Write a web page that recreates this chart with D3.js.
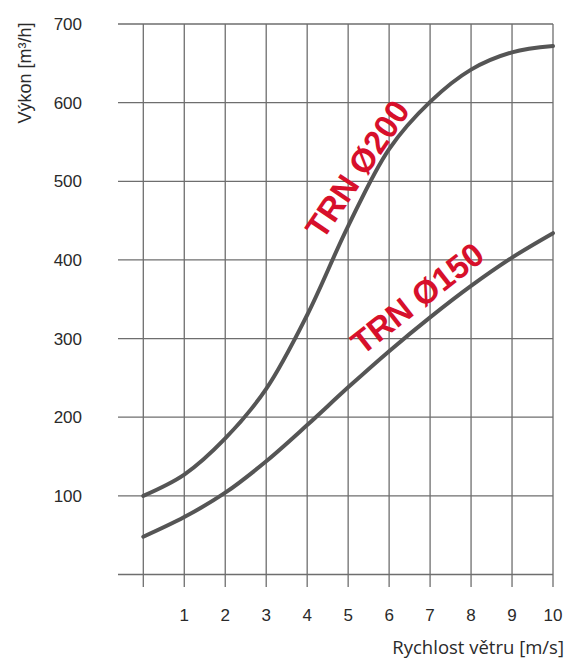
<!DOCTYPE html>
<html>
<head>
<meta charset="utf-8">
<script src="https://d3js.org/d3.v7.min.js"></script>
<style>
  body { margin: 0; background: #fff; }
</style>
</head>
<body>
<script>
// wind speed [m/s]
var speeds = [0, 1, 2, 3, 4, 5, 6, 7, 8, 9, 10];
// output [m3/h]
var trn200 = [100, 127, 173, 236, 330, 443, 541, 601, 642, 664, 672];
var trn150 = [48, 73, 104, 144, 190, 238, 284, 327, 367, 403, 434];
var xTicks = [1, 2, 3, 4, 5, 6, 7, 8, 9, 10];
var yTicks = [100, 200, 300, 400, 500, 600, 700];

var width = 567, height = 659;

var svg = d3.select("body").append("svg")
    .attr("width", width)
    .attr("height", height);

//scales
var x = d3.scaleLinear().domain([0, 10]).range([143.3, 553]);
var y = d3.scaleLinear().domain([0, 700]).range([574.5, 24]);

//horizontal grid (including the 0 line)
svg.append("g").selectAll("line")
    .data([0].concat(yTicks))
    .enter().append("line")
    .attr("x1", 118).attr("x2", x(10))
    .attr("y1", function(d) { return y(d); })
    .attr("y2", function(d) { return y(d); })
    .attr("stroke", "#6e6e6e")
    .attr("stroke-width", 1.3);

//vertical grid, runs a bit below the 0 line
svg.append("g").selectAll("line")
    .data(speeds)
    .enter().append("line")
    .attr("x1", function(d) { return x(d); })
    .attr("x2", function(d) { return x(d); })
    .attr("y1", y(700)).attr("y2", 587)
    .attr("stroke", "#6e6e6e")
    .attr("stroke-width", 1.3);

//tick labels
svg.append("g").selectAll("text")
    .data(yTicks)
    .enter().append("text")
    .attr("x", 82)
    .attr("y", function(d) { return y(d); })
    .attr("dy", "0.36em")
    .attr("text-anchor", "end")
    .style("font-family", "Liberation Sans, Arial, sans-serif")
    .style("font-size", "17px")
    .attr("fill", "#2a2a2a")
    .text(function(d) { return d; });

svg.append("g").selectAll("text")
    .data(xTicks)
    .enter().append("text")
    .attr("x", function(d) { return x(d); })
    .attr("y", 615)
    .attr("dy", "0.36em")
    .attr("text-anchor", "middle")
    .style("font-family", "Liberation Sans, Arial, sans-serif")
    .style("font-size", "17px")
    .attr("fill", "#2a2a2a")
    .text(function(d) { return d; });

//axis titles
svg.append("text")
    .attr("transform", "translate(25,73) rotate(-90)")
    .attr("dy", "0.36em")
    .attr("text-anchor", "middle")
    .style("font-family", "Liberation Sans, Arial, sans-serif")
    .style("font-size", "18px")
    .attr("fill", "#2a2a2a")
    .text("Výkon [m³/h]");

svg.append("text")
    .attr("x", 564)
    .attr("y", 647)
    .attr("dy", "0.36em")
    .attr("text-anchor", "end")
    .style("font-family", "Open Sans, sans-serif")
    .style("font-size", "18.5px")
    .attr("fill", "#2a2a2a")
    .text("Rychlost větru [m/s]");

//curves
var line = d3.line()
    .x(function(d, i) { return x(speeds[i]); })
    .y(function(d) { return y(d); })
    .curve(d3.curveCatmullRom.alpha(0.5));

[trn200, trn150].forEach(function(series) {
    svg.append("path")
        .datum(series)
        .attr("fill", "none")
        .attr("stroke", "#555")
        .attr("stroke-width", 4)
        .attr("stroke-linecap", "round")
        .attr("d", line);
});

//curve labels
var labels = [
    { text: "TRN Ø200", cx: 357, cy: 169, angle: -56 },
    { text: "TRN Ø150", cx: 417, cy: 298, angle: -38 }
];
svg.append("g").selectAll("text")
    .data(labels)
    .enter().append("text")
    .attr("transform", function(d) { return "translate(" + d.cx + "," + d.cy + ") rotate(" + d.angle + ")"; })
    .attr("dy", "0.36em")
    .attr("text-anchor", "middle")
    .style("font-family", "Liberation Sans, Arial, sans-serif")
    .style("font-size", "33px")
    .style("font-weight", "bold")
    .attr("fill", "#d7102b")
    .text(function(d) { return d.text; });
</script>
</body>
</html>
